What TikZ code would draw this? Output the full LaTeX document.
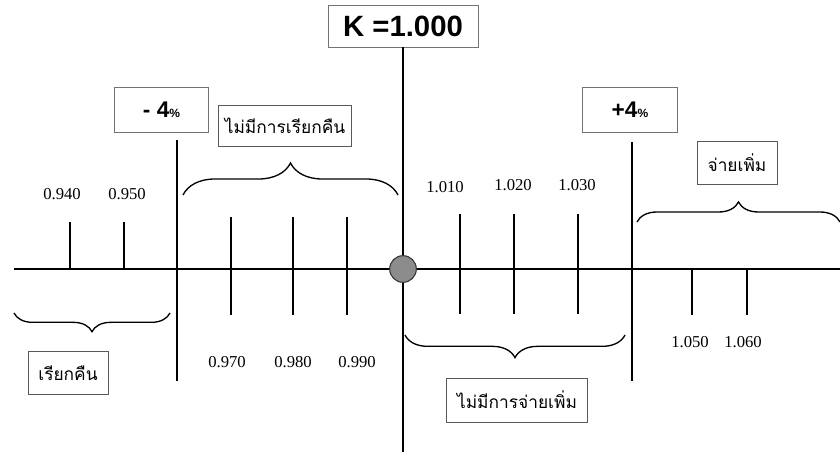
\documentclass[tikz,border=0pt]{standalone}
\usepackage{fontspec}
\setmainfont{Liberation Serif}
\newfontfamily\thaifont[Script=Thai]{Loma}
\newfontfamily\headfont{Liberation Sans}
\usetikzlibrary{decorations.pathreplacing}
\tikzset{
  valbox/.style={draw=black!55, line width=0.6pt, inner sep=2pt, font=\headfont\bfseries\fontsize{17}{19}\selectfont},
  zonebox/.style={draw=black!65, line width=0.6pt, inner sep=2pt, font=\thaifont\fontsize{13}{15}\selectfont},
  numlbl/.style={inner sep=1pt, font=\fontsize{12.5}{14}\selectfont},
  axisline/.style={line width=2pt},
  zonebrace/.style={decorate, decoration={brace, amplitude=#1}, line width=1pt},
  kdot/.style={circle, fill=black!45, draw=black!80, line width=0.8pt, minimum size=20pt, inner sep=0pt}
}
\begin{document}
\begin{tikzpicture}[x=0.75pt,y=0.75pt,yscale=-1,xscale=1]
\useasboundingbox (0,0) rectangle (840,456);
% Text Node
\node[valbox, minimum width=112.5pt, minimum height=31.5pt, font=\headfont\bfseries\fontsize{22}{24}\selectfont] (kval) at (403,26) {K =1.000};
% Text Node
\node[valbox, minimum width=70pt, minimum height=34pt] (minus4) at (161.5,110) {-~4{\fontsize{9}{10}\selectfont\%}};
% Text Node
\node[valbox, minimum width=71pt, minimum height=34pt] (plus4) at (630,110) {+4{\fontsize{9}{10}\selectfont\%}};
% Text Node
\node[zonebox, minimum width=100pt, minimum height=31pt] (norecall) at (285,126) {ไม่มีการเรียกคืน};
% Text Node
\node[zonebox, minimum width=60pt, minimum height=32pt] (payextra) at (737,163) {จ่ายเพิ่ม};
% Text Node
\node[zonebox, minimum width=60pt, minimum height=32pt] (recall) at (68,373) {เรียกคืน};
% Text Node
\node[zonebox, minimum width=106pt, minimum height=33pt] (nopay) at (517,400) {ไม่มีการจ่ายเพิ่ม};
%Straight Lines
\coordinate (kfoot) at (403,452);
\draw[axisline] (kval.south) -- (kfoot);
\draw[axisline] (177,140) -- (177,381);
\draw[axisline] (632,142) -- (632,381);
\draw[axisline] (14,269) -- (840,269);
%Straight Lines: ticks
\draw[axisline] (70,222) -- (70,269);
\draw[axisline] (124,222) -- (124,269);
\draw[axisline] (231,217) -- (231,315);
\draw[axisline] (293,217) -- (293,315);
\draw[axisline] (347,217) -- (347,315);
\draw[axisline] (460,214) -- (460,314);
\draw[axisline] (514,214) -- (514,314);
\draw[axisline] (578,214) -- (578,314);
\draw[axisline] (692,269) -- (692,315);
\draw[axisline] (747,269) -- (747,315);
%Shape: Circle
\node[kdot] (kpoint) at (403,269) {};
%Braces
\draw[zonebrace=24pt] (183,195) -- (398,195);
\draw[zonebrace=15pt] (637,222) -- (840,222);
\draw[zonebrace=14pt] (170,313) -- (14,313);
\draw[zonebrace=17pt] (625,335) -- (405,335);
% Text Node
\node[numlbl] (v940) at (62,194) {0.940};
\node[numlbl] (v950) at (127,194) {0.950};
\node[numlbl] (v970) at (227,362) {0.970};
\node[numlbl] (v980) at (293,362) {0.980};
\node[numlbl] (v990) at (357,362) {0.990};
\node[numlbl] (v1010) at (445,187) {1.010};
\node[numlbl] (v1020) at (513,185) {1.020};
\node[numlbl] (v1030) at (577,185) {1.030};
\node[numlbl] (v1050) at (690,342) {1.050};
\node[numlbl] (v1060) at (743,342) {1.060};
\end{tikzpicture}
\end{document}
